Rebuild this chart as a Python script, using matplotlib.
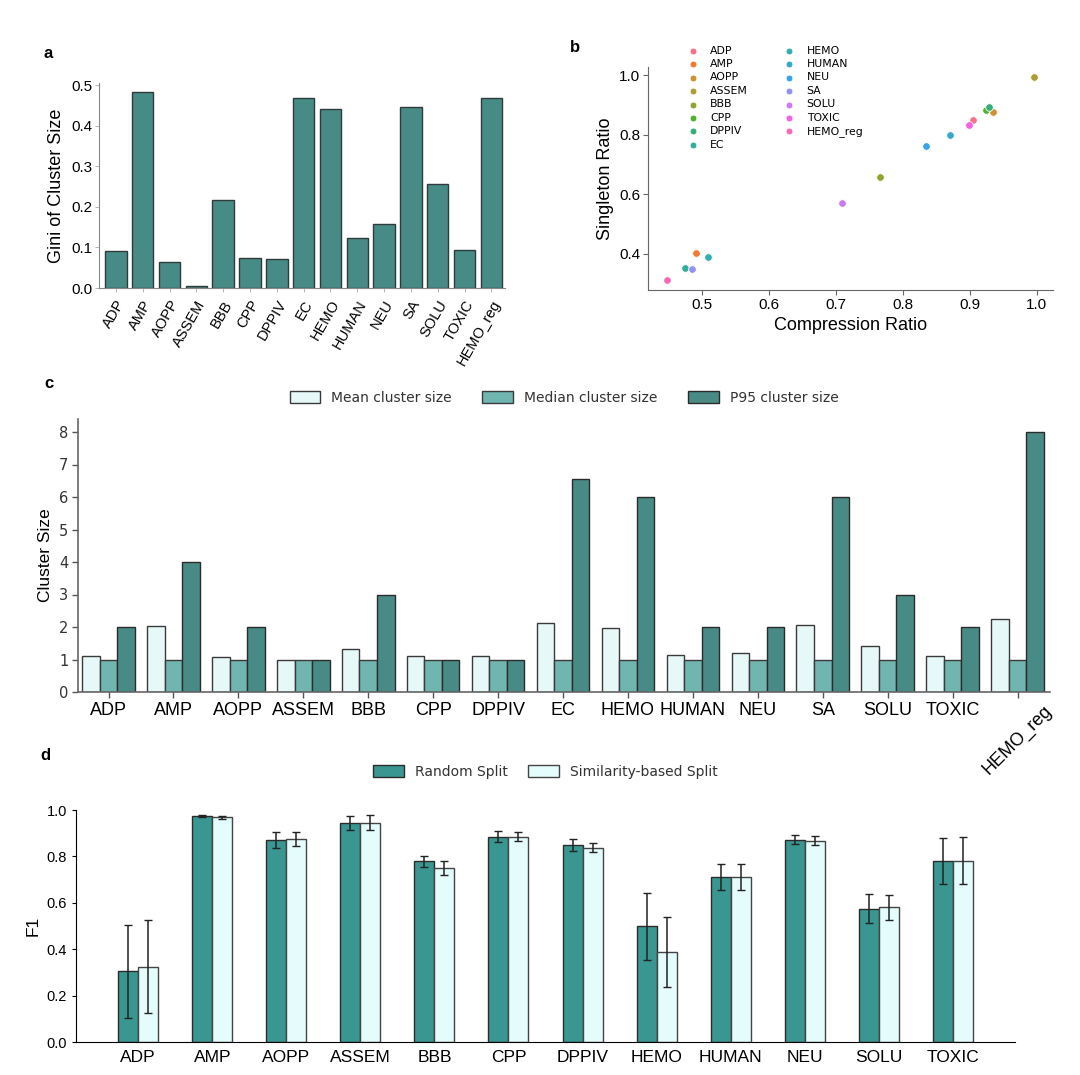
import matplotlib
matplotlib.use("Agg")
import matplotlib.pyplot as plt
import numpy as np
import seaborn as sns

ARIAL = "Liberation Sans"
DEJA = "DejaVu Sans"

# ---- data ----
datasets = ["ADP", "AMP", "AOPP", "ASSEM", "BBB", "CPP", "DPPIV", "EC",
            "HEMO", "HUMAN", "NEU", "SA", "SOLU", "TOXIC", "HEMO_reg"]

gini = [0.092, 0.484, 0.063, 0.004, 0.216, 0.073, 0.071, 0.467,
        0.440, 0.124, 0.158, 0.447, 0.257, 0.094, 0.469]

compression = [0.905, 0.491, 0.934, 0.996, 0.765, 0.924, 0.928, 0.475,
               0.509, 0.870, 0.834, 0.485, 0.709, 0.899, 0.448]
singleton = [0.849, 0.402, 0.877, 0.992, 0.658, 0.882, 0.892, 0.354,
             0.390, 0.799, 0.761, 0.349, 0.570, 0.832, 0.313]

mean_size = [1.12, 2.04, 1.09, 1.0, 1.32, 1.10, 1.10, 2.11,
             1.98, 1.15, 1.21, 2.06, 1.41, 1.11, 2.25]
median_size = [1, 1, 1, 1, 1, 1, 1, 1, 1, 1, 1, 1, 1, 1, 1]
p95_size = [2, 4, 2, 1, 3, 1, 1, 6.55, 6, 2, 2, 6, 3, 2, 8]

f1_tasks = ["ADP", "AMP", "AOPP", "ASSEM", "BBB", "CPP", "DPPIV", "HEMO",
            "HUMAN", "NEU", "SOLU", "TOXIC"]
f1_random = [0.304, 0.974, 0.871, 0.944, 0.779, 0.885, 0.849, 0.498,
             0.712, 0.872, 0.574, 0.779]
f1_random_err = [0.200, 0.005, 0.036, 0.032, 0.023, 0.023, 0.024, 0.146,
                 0.057, 0.019, 0.063, 0.100]
f1_sim = [0.324, 0.968, 0.874, 0.945, 0.749, 0.885, 0.838, 0.387,
          0.712, 0.868, 0.581, 0.782]
f1_sim_err = [0.200, 0.005, 0.030, 0.032, 0.030, 0.020, 0.019, 0.151,
              0.057, 0.020, 0.054, 0.100]

W, H = 1080, 1075
fig = plt.figure(figsize=(W / 100, H / 100), dpi=100)


def px_axes(left, top, right, bottom):
    return fig.add_axes([left / W, 1 - bottom / H, (right - left) / W, (bottom - top) / H])


def panel_letter(x, y, s):
    fig.text(x / W, 1 - y / H, s, fontsize=12, fontweight="bold", family=ARIAL,
             ha="center", va="center")


# ---- a: Gini ----
axa = px_axes(99, 83, 505, 288)
xa = np.arange(len(datasets))
axa.bar(xa, gini, width=0.8, color="#478b87", edgecolor="#2e3b3a", linewidth=1.0)
axa.set_xlim(-0.63, len(datasets) - 1 + 0.51)
axa.set_ylim(0, 0.505)
axa.set_yticks([0.0, 0.1, 0.2, 0.3, 0.4, 0.5])
axa.set_yticklabels(["0.0", "0.1", "0.2", "0.3", "0.4", "0.5"], family=ARIAL, fontsize=11)
axa.set_xticks(xa)
axa.set_xticklabels(datasets, rotation=60, ha="right", rotation_mode="anchor",
                    family=ARIAL, fontsize=10.5)
axa.set_ylabel("Gini of Cluster Size", family=ARIAL, fontsize=13)
for s in ["top", "right"]:
    axa.spines[s].set_visible(False)
for s in ["left", "bottom"]:
    axa.spines[s].set_color("#888888")
axa.tick_params(length=3, width=0.6, color="#aaaaaa", pad=2)
axa.tick_params(axis="x", pad=4)
panel_letter(48, 53, "a")

# ---- b: scatter ----
axb = px_axes(648, 67, 1053, 290)
pal = sns.color_palette("husl", len(datasets))
for i, name in enumerate(datasets):
    axb.scatter(compression[i], singleton[i], s=30, color=pal[i],
                edgecolor="white", linewidth=0.6, label=name, zorder=3)
axb.set_xlim(0.419, 1.024)
axb.set_ylim(0.279, 1.027)
axb.set_xticks([0.5, 0.6, 0.7, 0.8, 0.9, 1.0])
axb.set_xticklabels(["0.5", "0.6", "0.7", "0.8", "0.9", "1.0"], family=ARIAL, fontsize=11)
axb.set_yticks([0.4, 0.6, 0.8, 1.0])
axb.set_yticklabels(["0.4", "0.6", "0.8", "1.0"], family=ARIAL, fontsize=11)
axb.set_xlabel("Compression Ratio", family=ARIAL, fontsize=13)
axb.set_ylabel("Singleton Ratio", family=ARIAL, fontsize=13)
for s in ["top", "right"]:
    axb.spines[s].set_visible(False)
for s in ["left", "bottom"]:
    axb.spines[s].set_color("#666666")
axb.tick_params(length=3.5, width=0.8, color="#666666", pad=2)
axb.legend(ncol=2, frameon=False, prop={"family": DEJA, "size": 7.8},
           loc="upper left", bbox_to_anchor=(0.06, 1.14), markerscale=0.9,
           labelspacing=0.32, handletextpad=0.6, columnspacing=2.8)
panel_letter(575, 47, "b")

# ---- c: cluster size ----
axc = px_axes(78, 419, 1050, 692)
xc = np.arange(len(datasets))
bw = 0.27
axc.bar(xc - bw, mean_size, width=bw, color="#e6f8f8", edgecolor="#3a3a3a",
        linewidth=1.0, label="Mean cluster size")
axc.bar(xc, median_size, width=bw, color="#70b5b0", edgecolor="#3a3a3a",
        linewidth=1.0, label="Median cluster size")
axc.bar(xc + bw, p95_size, width=bw, color="#488a85", edgecolor="#2b2b2b",
        linewidth=1.0, label="P95 cluster size")
axc.set_xlim(-0.47, len(datasets) - 0.5)
axc.set_ylim(0, 8.4)
axc.set_yticks(range(9))
axc.set_yticklabels([str(v) for v in range(9)], family=DEJA, fontsize=10.5, color="#333333")
axc.set_xticks(xc)
axc.set_xticklabels(datasets, family=ARIAL, fontsize=13)
axc.get_xticklabels()[-1].set_rotation(45)
axc.set_ylabel("Cluster Size", family=ARIAL, fontsize=12.5)
for s in ["top", "right"]:
    axc.spines[s].set_visible(False)
for s in ["left", "bottom"]:
    axc.spines[s].set_color("#666666")
    axc.spines[s].set_linewidth(1.2)
axc.tick_params(length=4, width=1.0, color="#555555", pad=3)
axc.legend(ncol=3, frameon=False, prop={"family": DEJA, "size": 10},
           loc="center", bbox_to_anchor=(0.5, 1 + 21 / 273), handlelength=2.2,
           handleheight=0.9, columnspacing=2.2, labelcolor="#333333")
panel_letter(49, 384, "c")

# ---- d: F1 ----
axd = px_axes(76, 810, 1015, 1042)
xd = np.arange(len(f1_tasks))
bw = 0.27
axd.bar(xd - bw / 2, f1_random, width=bw, yerr=f1_random_err, color="#3a9691",
        edgecolor="#2b2b2b", linewidth=1.0, capsize=3,
        error_kw={"elinewidth": 1.1, "capthick": 1.0, "ecolor": "#222222"},
        label="Random Split")
axd.bar(xd + bw / 2, f1_sim, width=bw, yerr=f1_sim_err, color="#e4fcfc",
        edgecolor="#444444", linewidth=1.0, capsize=3,
        error_kw={"elinewidth": 1.1, "capthick": 1.0, "ecolor": "#222222"},
        label="Similarity-based Split")
axd.set_xlim(-0.84, len(f1_tasks) - 1 + 0.84)
axd.set_ylim(0, 1.0)
axd.set_yticks([0.0, 0.2, 0.4, 0.6, 0.8, 1.0])
axd.set_yticklabels(["0.0", "0.2", "0.4", "0.6", "0.8", "1.0"], family=ARIAL, fontsize=10.5)
axd.set_xticks(xd)
axd.set_xticklabels(f1_tasks, family=ARIAL, fontsize=12.5)
axd.tick_params(axis="x", length=0, pad=6)
axd.tick_params(axis="y", length=3, width=0.8)
axd.set_ylabel("F1", family=ARIAL, fontsize=12.5)
for s in ["top", "right"]:
    axd.spines[s].set_visible(False)
axd.legend(ncol=2, frameon=False, prop={"family": DEJA, "size": 10},
           loc="center", bbox_to_anchor=(0.5, 1 + 38 / 232), handlelength=2.2,
           handleheight=0.9, columnspacing=1.5, labelcolor="#333333")
panel_letter(45, 756, "d")

fig.savefig("out.png", dpi=100)
